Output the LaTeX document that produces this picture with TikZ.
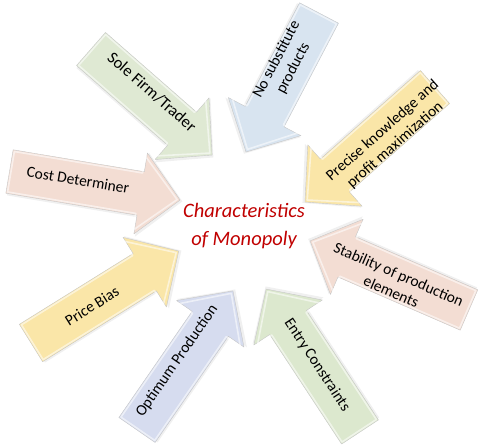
\documentclass[tikz,border=0pt]{standalone}
\usepackage{fontspec}
\setmainfont{Carlito}
\definecolor{cgreen}{HTML}{DFE9D3}
\definecolor{cgreenb}{HTML}{DCE8CE}
\definecolor{cblue}{HTML}{D8E4F0}
\definecolor{cyellow}{HTML}{FAE6A8}
\definecolor{cpeach}{HTML}{F3DDD3}
\definecolor{clav}{HTML}{D6DCEF}
\definecolor{cred}{HTML}{C00000}
\tikzset{
  lbl/.style={font=\fontsize{15.5}{19}\selectfont, align=center, text=black, inner sep=0pt},
  ctitle/.style={font=\itshape\fontsize{20.5}{28}\selectfont, align=center, text=cred},
}
% #1 tail centre, #2 angle, #3 length, #4 colour
\newcommand\blockarr[4]{%
  \begin{scope}[shift={#1}, rotate=#2]
    \fill[black, opacity=.06] (1.5,-24) -- ({#3-38.5},-24) -- ({#3-38.5},-43.5) -- ({#3+2.5},-1) -- ({#3-38.5},41.5) -- ({#3-38.5},20) -- (1.5,20) -- cycle;
    \filldraw[fill=#4, draw=black!22, line width=0.4pt, line join=round]
      (0,-22) -- ({#3-40},-22) -- ({#3-40},-41) -- (#3,0) -- ({#3-40},41) -- ({#3-40},22) -- (0,22) -- cycle;
    \draw[white, opacity=.55, line width=1.6pt, line join=round]
      (1.5,-20.5) -- ({#3-41.5},-20.5) -- ({#3-41.5},-37.5) -- ({#3-3},0) -- ({#3-41.5},37.5) -- ({#3-41.5},20.5) -- (1.5,20.5) -- cycle;
  \end{scope}}
\begin{document}
\begin{tikzpicture}[x=1pt,y=1pt]
\useasboundingbox (0,0) rectangle (480,-446);
% arrows
\blockarr{(91,-49)}{-41.2}{161}{cgreen}
\blockarr{(319,-13)}{242.3}{157}{cblue}
\blockarr{(435,-87)}{221.5}{173.6}{cyellow}
\blockarr{(469,-310)}{156.5}{173.3}{cpeach}
\blockarr{(360,-432)}{123.3}{171}{cgreenb}
\blockarr{(137,-430)}{55.4}{169}{clav}
\blockarr{(31,-343)}{31.9}{174}{cyellow}
\blockarr{(9.5,-171.5)}{-9.5}{173}{cpeach}
% labels
\node[lbl, font=\fontsize{16.5}{19}\selectfont, rotate=-41.2] (sole) at (152,-92) {Sole Firm/Trader};
\node[lbl, rotate=62.3] (nosub) at (285,-64) {No substitute\\products};
\node[lbl, rotate=41.5] (prec) at (389,-138) {Precise knowledge and\\profit maximization};
\node[lbl, rotate=-23.5] (stab) at (395,-283) {Stability of production\\elements};
\node[lbl, rotate=-56.7] (entry) at (317,-365) {Entry Constraints};
\node[lbl, rotate=55.4] (optim) at (177,-361) {Optimum Production};
\node[lbl, rotate=31.9] (price) at (92,-306) {Price Bias};
\node[lbl, rotate=-9.5] (cost) at (78,-180) {Cost Determiner};
\node[ctitle] (center) at (244,-226) {Characteristics\\of Monopoly};
\end{tikzpicture}
\end{document}
